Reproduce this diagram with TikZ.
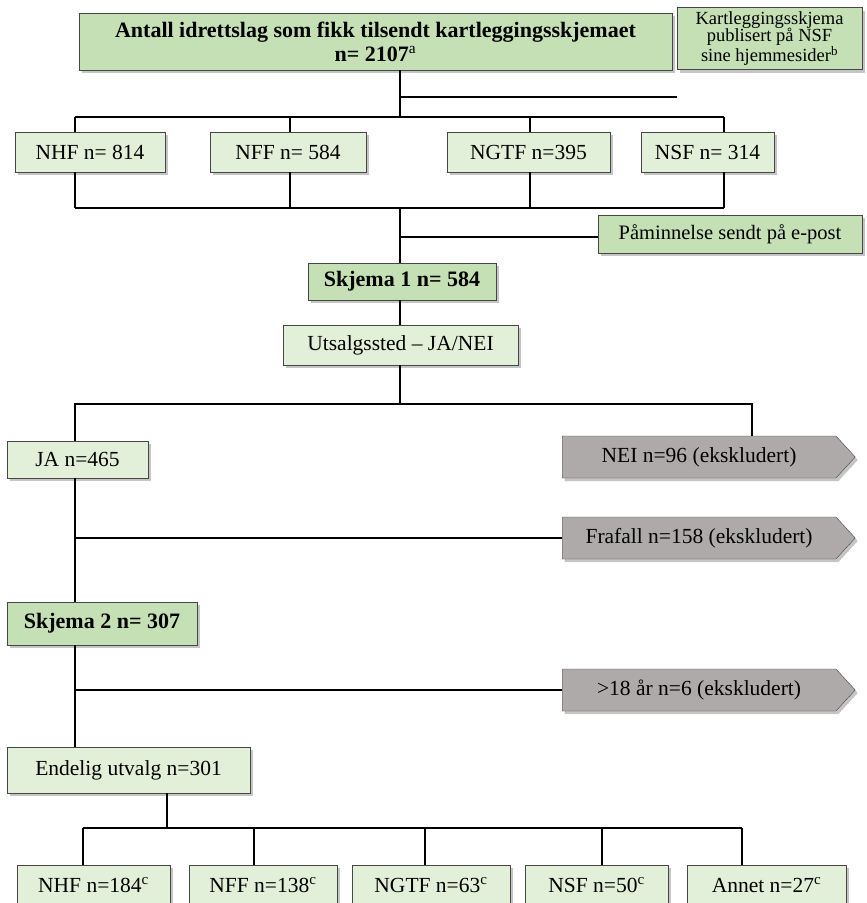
\documentclass[tikz,border=0pt]{standalone}
\usepackage{fontspec}
\setmainfont{Liberation Serif}
\usetikzlibrary{shapes.symbols, shadows, positioning}
\definecolor{headcolor}{RGB}{197,224,180}
\definecolor{fedcolor}{RGB}{226,240,217}
\definecolor{exclcolor}{RGB}{174,170,170}
\definecolor{edgecolor}{RGB}{70,70,70}

\begin{document}
\begin{tikzpicture}[
    x=1pt, y=-1pt,
    every node/.style={inner sep=0pt, font=\fontsize{21.5}{23}\selectfont},
    boxshadow/.style={drop shadow={shadow xshift=2.5pt, shadow yshift=-3pt, fill=black!45, opacity=0.5}},
    headbox/.style={draw=edgecolor, fill=headcolor, align=center, boxshadow},
    fedbox/.style={draw=edgecolor, fill=fedcolor, align=center, boxshadow},
    exclbox/.style={signal, signal to=east, signal pointer angle=95, draw=edgecolor, fill=exclcolor, anchor=west, minimum width=293, minimum height=42, boxshadow},
    boldtext/.style={font=\fontsize{22}{24}\selectfont\bfseries},
    link/.style={line width=1.3pt, black}
]
    \useasboundingbox (0,0) rectangle (867,903);

    % Top
    \node[headbox, boldtext, minimum width=593, minimum height=57] (total) at (375.5,41.5) {Antall idrettslag som fikk tilsendt kartleggingsskjemaet\\n= 2107\textsuperscript{\mdseries a}};
    \node[headbox, minimum width=185, minimum height=62, font=\fontsize{18.5}{17.5}\selectfont] (publ) at (769.5,38.5) {Kartleggingsskjema\\publisert på NSF\\sine hjemmesider\textsuperscript{b}};

    % Federations
    \node[fedbox, minimum width=150, minimum height=40] (nhfA) at (90,152) {NHF n= 814};
    \node[fedbox, minimum width=156, minimum height=40] (nffA) at (288,152) {NFF n= 584};
    \node[fedbox, minimum width=163, minimum height=40] (ngtfA) at (528.5,152) {NGTF n=395};
    \node[fedbox, minimum width=133, minimum height=40] (nsfA) at (707.5,152) {NSF n= 314};

    \coordinate (barA) at (400,117);
    \coordinate (barB) at (400,208);
    \coordinate (remind) at (400,237);
    \coordinate (toPubl) at (400,97);
    \draw[link] (total.south -| barA) -- (barA);
    \draw[link] (toPubl) -- (toPubl -| publ.west);
    \draw[link] (75,0 |- barA) -- (724,0 |- barA);
    \draw[link] (75,0 |- barB) -- (724,0 |- barB);
    \foreach \n/\x in {nhfA/75, nffA/290, ngtfA/530, nsfA/724} {
        \draw[link] (\x,0 |- barA) -- (\x,0 |- \n.north);
        \draw[link] (\x,0 |- \n.south) -- (\x,0 |- barB);
    }

    % Skjema 1
    \node[headbox, minimum width=264, minimum height=38, font=\fontsize{20.5}{22}\selectfont] (pamin) at (730,234) {Påminnelse sendt på e-post};
    \node[headbox, boldtext, minimum width=188, minimum height=37] (skj1) at (402,281.5) {Skjema 1 n= 584};
    \node[fedbox, minimum width=235, minimum height=40] (utsalg) at (400.5,345) {Utsalgssted -- JA/NEI};
    \draw[link] (barB) -- (barB |- skj1.north);
    \draw[link] (remind) -- (remind -| pamin.west);
    \draw[link] (skj1.south -| barB) -- (utsalg.north -| barB);

    % JA / NEI
    \coordinate (split) at (400,404);
    \node[fedbox, minimum width=141, minimum height=37] (ja) at (77.5,459.5) {JA n=465};
    \node[exclbox] (nei) at (562,457) {NEI n=96 (ekskludert)};
    \node[exclbox] (frafall) at (562,538) {Frafall n=158 (ekskludert)};
    \draw[link] (utsalg.south -| split) -- (split);
    \draw[link] (75,0 |- ja.north) -- (75,0 |- split) -- (752,0 |- split) -- (752,0 |- nei.north);
    \draw[link] (75,0 |- frafall.west) -- (frafall.west);

    % Skjema 2
    \node[headbox, boldtext, minimum width=190, minimum height=43] (skj2) at (102,623.5) {Skjema 2 n= 307};
    \node[exclbox] (over) at (562,690) {>18 år n=6 (ekskludert)};
    \node[fedbox, minimum width=243, minimum height=46] (endelig) at (128.5,770) {Endelig utvalg n=301};
    \draw[link] (75,0 |- ja.south) -- (75,0 |- skj2.north);
    \draw[link] (75,0 |- skj2.south) -- (75,0 |- endelig.north);
    \draw[link] (75,0 |- over.west) -- (over.west);

    % Endelig utvalg
    \node[fedbox, minimum width=153, minimum height=40] (nhfB) at (93.5,885) {NHF n=184\textsuperscript{c}};
    \node[fedbox, minimum width=148, minimum height=40] (nffB) at (263,885) {NFF n=138\textsuperscript{c}};
    \node[fedbox, minimum width=158, minimum height=40] (ngtfB) at (431,885) {NGTF n=63\textsuperscript{c}};
    \node[fedbox, minimum width=143, minimum height=40] (nsfB) at (596.5,885) {NSF n=50\textsuperscript{c}};
    \node[fedbox, minimum width=159, minimum height=40] (annet) at (766.5,885) {Annet n=27\textsuperscript{c}};
    \coordinate (barC) at (167,828);
    \draw[link] (endelig.south -| barC) -- (barC);
    \draw[link] (83,0 |- barC) -- (742,0 |- barC);
    \foreach \n/\x in {nhfB/83, nffB/254, ngtfB/425, nsfB/602, annet/742} {
        \draw[link] (\x,0 |- barC) -- (\x,0 |- \n.north);
    }
\end{tikzpicture}
\end{document}
